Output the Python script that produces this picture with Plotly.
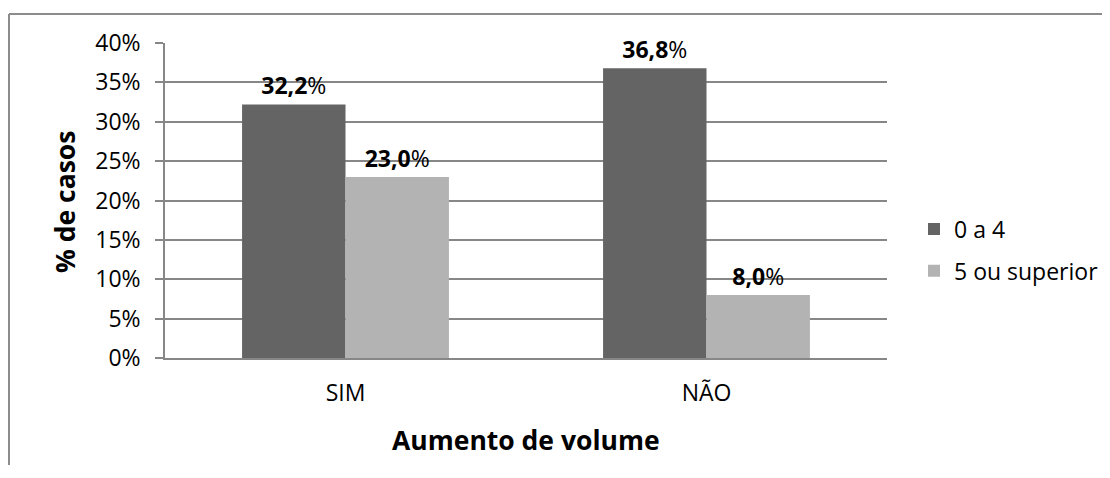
import plotly.graph_objects as go

categories = ["SIM", "NÃO"]
series_names = ["0 a 4", "5 ou superior"]
values_0a4 = [32.2, 36.8]
values_5sup = [23.0, 8.0]
y_ticks = [0, 5, 10, 15, 20, 25, 30, 35, 40]

colors = ["#646464", "#b3b3b3"]
FONT = "Open Sans"

# page body has an 8px margin: figure origin sits at (8, 8) on screen
OFF = 8
W, H = 1110 - OFF, 478 - OFF
L, R, T, B = 165 - OFF, 223, 43 - OFF, 120
pw, ph = W - L - R, H - T - B

def px_x(sx):
    return (sx - OFF - L) / pw

def px_y(sy):
    return (H - B - (sy - OFF)) / ph

fig = go.Figure()
for name, vals, col in zip(series_names, [values_0a4, values_5sup], colors):
    fig.add_trace(go.Bar(
        x=categories, y=vals, name=name, marker=dict(color=col, line=dict(width=0)),
        texttemplate="<b>%{y:.1f}</b>%",
        textposition="outside",
        textfont=dict(family=FONT, size=23, color="black"),
        cliponaxis=False, legendgroup=name,
    ))

grid = "#878787"
fig.update_layout(
    width=W, height=H,
    margin=dict(l=L, r=R, t=T, b=B, autoexpand=False),
    paper_bgcolor="white", plot_bgcolor="white",
    separators=",.",
    barmode="group", bargap=0.427, bargroupgap=0,
    font=dict(family=FONT, size=23, color="black"),
    showlegend=True,
    legend=dict(x=px_x(914), y=px_y(250), xanchor="left", yanchor="middle",
                font=dict(family=FONT, size=23, color="black"),
                traceorder="grouped", tracegroupgap=9, bgcolor="rgba(0,0,0,0)"),
    xaxis=dict(showgrid=False, showline=True, linecolor=grid, linewidth=1.5,
               ticks="", ticklabelstandoff=14,
               tickfont=dict(family=FONT, size=23, color="black")),
    yaxis=dict(range=[0, 40], tickvals=y_ticks, ticktext=[f"{v}%" for v in y_ticks],
               showgrid=True, gridcolor=grid, gridwidth=1.5,
               showline=True, linecolor=grid, linewidth=1.5,
               ticks="outside", ticklen=8, tickcolor=grid, tickwidth=1.5,
               zeroline=False, ticklabelstandoff=10,
               tickfont=dict(family=FONT, size=23, color="black")),
)

fig.add_annotation(text="<b>Aumento de volume</b>", xref="paper", yref="paper",
                   x=px_x(526), y=px_y(440), xanchor="center", yanchor="middle",
                   showarrow=False, font=dict(family=FONT, size=26.5, color="black"))
fig.add_annotation(text="<b>% de casos</b>", xref="paper", yref="paper",
                   x=px_x(65), y=px_y(202), xanchor="center", yanchor="middle",
                   textangle=-90, showarrow=False,
                   font=dict(family=FONT, size=26.5, color="black"))

border = "#8c8c8c"
fig.add_shape(type="line", xref="paper", yref="paper",
              x0=px_x(9), x1=px_x(1120), y0=px_y(14), y1=px_y(14),
              line=dict(color=border, width=2))
fig.add_shape(type="line", xref="paper", yref="paper",
              x0=px_x(9), x1=px_x(9), y0=px_y(14), y1=px_y(465),
              line=dict(color=border, width=2))

fig.write_html("out.html")
